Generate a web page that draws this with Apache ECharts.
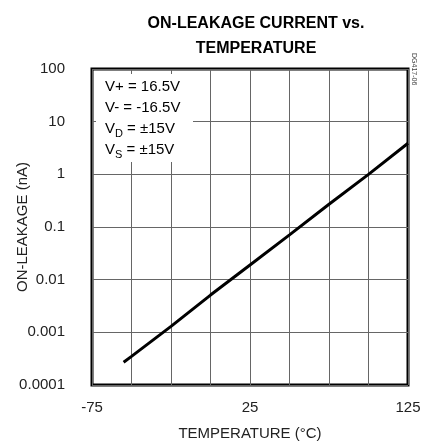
<!DOCTYPE html>
<html>
<head>
<meta charset="utf-8">
<script src="https://cdn.jsdelivr.net/npm/echarts@6/dist/echarts.min.js"></script>
<style>
  html, body { margin: 0; padding: 0; background: #fff; }
  #main { width: 429px; height: 445px; }
</style>
</head>
<body>
<div id="main"></div>
<script>
// 数据
var temps = [-55, -50, -25, 0, 25, 50, 75, 100, 125];
var leakage = [0.00027, 0.00035, 0.0013, 0.0051, 0.019, 0.071, 0.27, 1.0, 3.9];
var xTickLabels = ['-75', '25', '125'];
var yTickLabels = ['0.0001', '0.001', '0.01', '0.1', '1', '10', '100'];
var noteLines = [
  ['V+ = 16.5V', '', ''],
  ['V- = -16.5V', '', ''],
  ['V', 'D', ' = ±15V'],
  ['V', 'S', ' = ±15V']
];

var chartDom = document.getElementById('main');
var myChart = echarts.init(chartDom);

var FONT = 'Liberation Sans, Arial, sans-serif';

var seriesData = temps.map(function (t, i) { return [t, leakage[i]]; });

var noteText = noteLines.map(function (l) {
  var s = '{a|' + l[0] + '}';
  if (l[1]) s += '{sub|' + l[1] + '}{a|' + l[2] + '}';
  return s;
}).join('\n');

var option = {
  animation: false,
  backgroundColor: '#fff',
  title: {
    text: 'ON-LEAKAGE CURRENT vs.\nTEMPERATURE',
    left: 251,
    textAlign: 'center',
    top: 6,
    textStyle: {
      fontFamily: FONT,
      fontWeight: 'bold',
      fontSize: 16,
      lineHeight: 25,
      color: '#000'
    }
  },
  grid: {
    left: 92,
    top: 69,
    right: 21,
    bottom: 60,
    show: true,
    borderColor: '#000',
    borderWidth: 3,
    outerBoundsMode: 'none'
  },
  xAxis: {
    type: 'value',
    min: -75,
    max: 125,
    interval: 25,
    name: 'TEMPERATURE (°C)',
    nameLocation: 'middle',
    nameGap: 41,
    nameMoveOverlap: false,
    nameTextStyle: { fontFamily: FONT, fontSize: 15, color: '#222' },
    axisLine: { show: false },
    axisTick: { show: false },
    axisLabel: {
      margin: 15,
      fontFamily: FONT,
      fontSize: 15,
      color: '#222',
      formatter: function (v) {
        var s = String(v);
        return xTickLabels.indexOf(s) >= 0 ? s : '';
      }
    },
    splitLine: { show: true, lineStyle: { color: '#666', width: 1 } }
  },
  yAxis: {
    type: 'log',
    logBase: 10,
    min: 0.0001,
    max: 100,
    name: 'ON-LEAKAGE (nA)',
    nameLocation: 'middle',
    nameGap: 62,
    nameMoveOverlap: false,
    nameTextStyle: { fontFamily: FONT, fontSize: 15, color: '#222' },
    axisLine: { show: false },
    axisTick: { show: false },
    axisLabel: {
      margin: 27,
      fontFamily: FONT,
      fontSize: 15,
      color: '#222',
      formatter: function (v) {
        var k = Math.round(Math.log10(v)) + 4;
        return yTickLabels[k] || '';
      }
    },
    splitLine: { show: true, lineStyle: { color: '#666', width: 1 } }
  },
  graphic: [
    {
      type: 'rect',
      z: 100,
      shape: { x: 96, y: 74, width: 97, height: 88 },
      style: { fill: '#fff' }
    },
    {
      type: 'text',
      z: 101,
      x: 105,
      y: 76,
      style: {
        text: noteText,
        rich: {
          a: { fontFamily: FONT, fontSize: 15, lineHeight: 21, color: '#222' },
          sub: { fontFamily: FONT, fontSize: 11, lineHeight: 11, verticalAlign: 'bottom', color: '#222' }
        }
      }
    },
    {
      type: 'text',
      z: 101,
      x: 417,
      y: 53,
      rotation: -Math.PI / 2,
      style: { text: 'DG417-06', fontFamily: FONT, fontSize: 7, fill: '#444' }
    }
  ],
  series: [
    {
      type: 'line',
      data: seriesData,
      symbol: 'none',
      smooth: false,
      lineStyle: { color: '#000', width: 3 },
      z: 10
    }
  ]
};

myChart.setOption(option);
</script>
</body>
</html>
